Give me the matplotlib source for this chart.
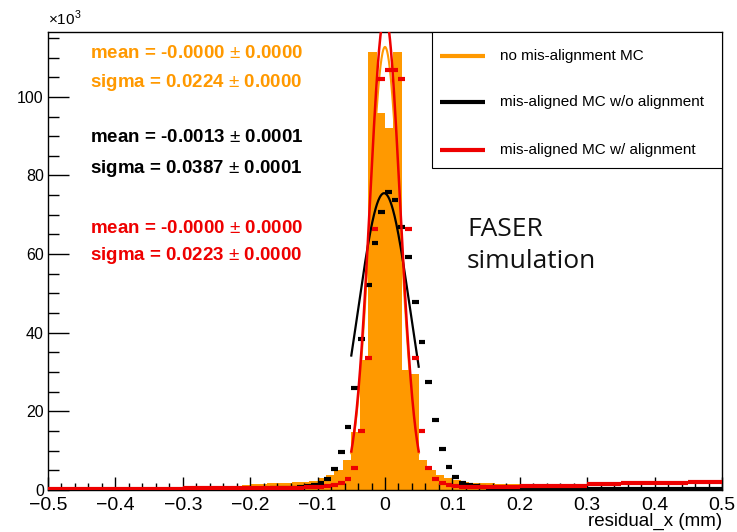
import numpy as np
import matplotlib
matplotlib.use("Agg")
import matplotlib.pyplot as plt
from matplotlib.patches import Rectangle
from matplotlib.ticker import MultipleLocator

# colours
ORANGE = "#ff9900"
RED = "#ee0000"
BLACK = "#000000"

# no mis-alignment MC: 80 bins of 0.0125 mm, counts in thousands
orange_edges = np.linspace(-0.5, 0.5, 81)
orange_counts = [
    0.3, 0.3, 0.3, 0.35, 0.4, 0.45, 0.5, 0.55, 0.6, 0.6,
    0.65, 0.7, 0.7, 0.75, 0.75, 0.8, 0.8, 0.85, 0.85, 0.9,
    0.9, 0.95, 1.0, 1.3, 1.5, 1.6, 1.7, 1.8, 1.9, 2.0,
    2.1, 2.3, 3.0, 3.8, 5.1, 7.6, 14.8, 33.1, 111.4, 96.0,
    92.0, 111.4, 30.5, 29.5, 7.6, 5.1, 3.8, 3.0, 2.5, 2.1,
    1.9, 1.8, 1.7, 1.6, 1.5, 1.4, 1.2, 0.5, 0.45, 0.45,
    0.4, 0.4, 0.4, 0.4, 0.35, 0.35, 0.35, 0.35, 0.3, 0.3,
    0.3, 0.3, 0.3, 0.3, 0.3, 0.3, 0.3, 0.3, 0.3, 0.3,
]

# mis-aligned MC: 100 bins of 0.01 mm, counts in thousands
edges = np.linspace(-0.5, 0.5, 101)
centers = 0.5 * (edges[:-1] + edges[1:])

black_counts = [
    0.1, 0.1, 0.1, 0.1, 0.1, 0.1, 0.1, 0.1, 0.1, 0.1,
    0.1, 0.1, 0.1, 0.1, 0.1, 0.1, 0.1, 0.1, 0.1, 0.1,
    0.15, 0.15, 0.15, 0.15, 0.2, 0.2, 0.2, 0.2, 0.25, 0.25,
    0.3, 0.3, 0.35, 0.4, 0.45, 0.5, 0.6, 0.7, 0.9, 1.2,
    1.8, 2.8, 5.3, 9.7, 16.0, 26.0, 38.4, 52.2, 62.8, 70.7,
    75.8, 73.8, 66.9, 59.3, 47.8, 37.7, 27.5, 17.8, 10.4, 5.9,
    3.3, 1.8, 1.2, 0.9, 0.7, 0.6, 0.5, 0.45, 0.4, 0.35,
    0.35, 0.3, 0.3, 0.3, 0.3, 0.3, 0.3, 0.3, 0.3, 0.3,
    0.3, 0.3, 0.3, 0.3, 0.3, 0.3, 0.3, 0.3, 0.3, 0.3,
    0.3, 0.3, 0.3, 0.3, 0.3, 0.3, 0.3, 0.3, 0.3, 0.3,
]

red_counts = [
    0.3, 0.3, 0.3, 0.3, 0.3, 0.3, 0.3, 0.3, 0.3, 0.3,
    0.35, 0.35, 0.35, 0.35, 0.35, 0.35, 0.35, 0.35, 0.35, 0.35,
    0.4, 0.4, 0.4, 0.4, 0.4, 0.4, 0.4, 0.4, 0.45, 0.45,
    0.45, 0.45, 0.5, 0.5, 0.5, 0.55, 0.55, 0.6, 0.65, 0.7,
    0.8, 1.0, 1.3, 1.8, 2.8, 5.7, 15.0, 33.6, 66.4, 104.6,
    106.9, 106.9, 104.6, 66.4, 33.6, 15.0, 5.7, 2.8, 1.8, 1.3,
    1.0, 0.8, 0.7, 0.7, 0.7, 0.7, 0.7, 0.7, 0.7, 0.7,
    0.9, 0.9, 0.9, 0.95, 0.95, 1.0, 1.0, 1.0, 1.0, 1.0,
    1.4, 1.4, 1.4, 1.4, 1.5, 1.9, 1.9, 1.9, 1.9, 1.9,
    1.9, 1.9, 1.9, 1.9, 1.9, 2.1, 2.1, 2.1, 2.1, 2.1,
]

# gaussian fits: amplitude (thousands), mean, sigma
orange_fit = [112.7, 0.0, 0.0224]
black_fit = [75.5, -0.0013, 0.0387]
red_fit = [121.0, 0.0, 0.0223]
fit_range = [-0.05, 0.05]

x_ticks = [-0.5, -0.4, -0.3, -0.2, -0.1, 0, 0.1, 0.2, 0.3, 0.4, 0.5]
labels = ["no mis-alignment MC", "mis-aligned MC w/o alignment", "mis-aligned MC w/ alignment"]
stats = [
    ("mean = -0.0000 $\\pm$ 0.0000", "sigma = 0.0224 $\\pm$ 0.0000", ORANGE),
    ("mean = -0.0013 $\\pm$ 0.0001", "sigma = 0.0387 $\\pm$ 0.0001", BLACK),
    ("mean = -0.0000 $\\pm$ 0.0000", "sigma = 0.0223 $\\pm$ 0.0000", RED),
]


def gauss(x, p):
    return p[0] * np.exp(-0.5 * ((x - p[1]) / p[2]) ** 2)


plt.rcParams["font.family"] = ["Liberation Sans", "DejaVu Sans"]
plt.rcParams["mathtext.fontset"] = "custom"
plt.rcParams["mathtext.rm"] = "Liberation Sans"

fig = plt.figure(figsize=(7.37, 5.32), dpi=100)
ax = fig.add_axes([48 / 737, 1 - 490 / 532, 674 / 737, 458 / 532])

# orange filled histogram
ax.stairs(orange_counts, orange_edges, fill=True, color=ORANGE, zorder=1)

xf = np.linspace(fit_range[0], fit_range[1], 200)
ax.plot(xf, gauss(xf, orange_fit), color=ORANGE, lw=1.5, zorder=2)

# black points (horizontal bin-width bars)
ax.errorbar(centers, black_counts, xerr=0.005, fmt="none", ecolor=BLACK, elinewidth=3, zorder=3)
ax.plot(xf, gauss(xf, black_fit), color=BLACK, lw=1.6, zorder=4)

# red points
ax.errorbar(centers, red_counts, xerr=0.005, fmt="none", ecolor=RED, elinewidth=3, zorder=5)
ax.plot(xf, gauss(xf, red_fit), color=RED, lw=1.8, zorder=6)

ax.set_xlim(-0.5, 0.5)
ax.set_ylim(0, 116.5)

ax.set_xticks(x_ticks)
ax.set_xticklabels([f"{v:g}".replace("-", "\u2212") for v in x_ticks])
ax.xaxis.set_minor_locator(MultipleLocator(0.02))
ax.yaxis.set_major_locator(MultipleLocator(20))
ax.yaxis.set_minor_locator(MultipleLocator(5))
ax.tick_params(axis="both", which="both", direction="in", top=False, right=False, width=1)
ax.tick_params(axis="x", which="major", length=9.5, pad=5, labelsize=14)
ax.tick_params(axis="x", which="minor", length=5)
ax.tick_params(axis="y", which="major", length=15, pad=3, labelsize=11.5)
ax.tick_params(axis="y", which="minor", length=8)
for s in ax.spines.values():
    s.set_linewidth(1)

fig.text(48 / 737, 1 - 18 / 532, "$\\times$10$^{3}$", fontsize=11, va="center", ha="left")
ax.set_xlabel("residual_x (mm)", fontsize=13.5, loc="right", labelpad=-1)

# fit results
ys = [(0.954, 0.889), (0.769, 0.703), (0.572, 0.511)]
for (m, sg, c), (y1, y2) in zip(stats, ys):
    ax.text(0.062, y1, m, transform=ax.transAxes, color=c, fontsize=13.5,
            fontweight="bold", va="center")
    ax.text(0.062, y2, sg, transform=ax.transAxes, color=c, fontsize=13.5,
            fontweight="bold", va="center")

# legend box
x0 = (432 - 48) / 674
y0 = (490 - 168) / 458
ax.add_patch(Rectangle((x0, y0), 1 - x0, 1 - y0, transform=ax.transAxes,
                       facecolor="white", edgecolor="black", lw=0.8, zorder=7))
for lab, c, yp in zip(labels, [ORANGE, BLACK, RED], [56, 102, 150]):
    yy = (490 - yp) / 458
    ax.plot([(440 - 48) / 674, (485 - 48) / 674], [yy, yy], transform=ax.transAxes,
            color=c, lw=3, zorder=8, solid_capstyle="butt")
    ax.text((500 - 48) / 674, yy, lab, transform=ax.transAxes, fontsize=11,
            va="center", zorder=8)

ax.text((467 - 48) / 674, (490 - 230) / 458, "FASER", transform=ax.transAxes,
        fontsize=19, family="Open Sans", va="center", color="#111111")
ax.text((467 - 48) / 674, (490 - 262) / 458, "simulation", transform=ax.transAxes,
        fontsize=19, family="Open Sans", va="center", color="#111111")

fig.savefig("out.png", dpi=100)
